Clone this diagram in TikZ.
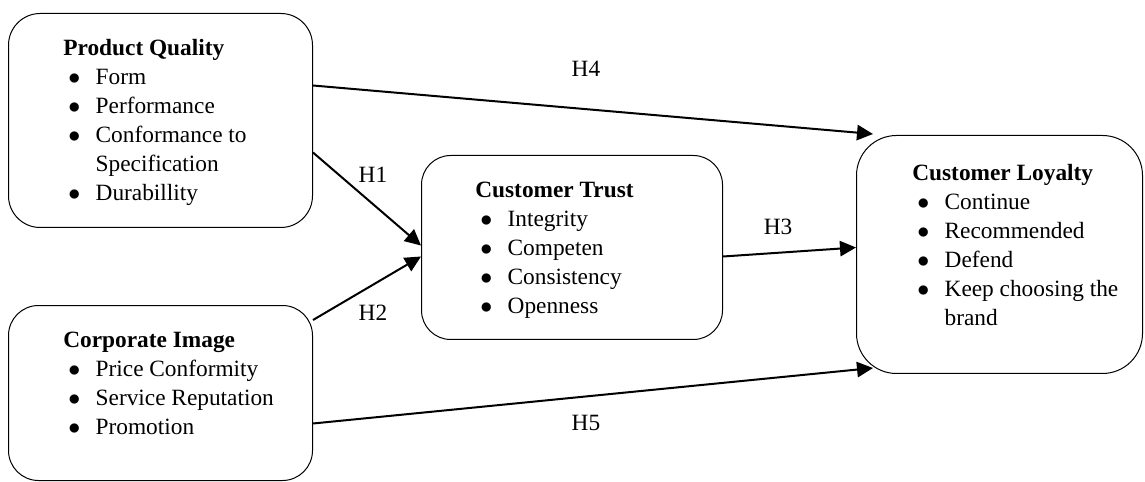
\documentclass[tikz,border=0pt]{standalone}
\usepackage{fontspec}
\setmainfont{Liberation Serif}
\usetikzlibrary{arrows.meta}
\newcommand{\bitem}[1]{\hspace*{3pt}\makebox[16.4pt][l]{$\bullet$}#1}
\newcommand{\bcont}[1]{\hspace*{19.4pt}#1}

\begin{document}
\begin{tikzpicture}[x=0.6pt, y=-0.6pt,
	box/.style={draw, line width=0.6pt, inner sep=0pt, anchor=north west},
	list/.style={anchor=north west, inner sep=0pt, align=left, font=\fontsize{14}{17.4}\selectfont},
	hyp/.style={inner sep=0pt, font=\fontsize{14}{16}\selectfont},
	link/.style={line width=1.2pt, -{Triangle[length=9.6pt,width=9.2pt]}}]
	\useasboundingbox (0,0) rectangle (1145,482);
	% boxes
	\node[box, rounded corners=19pt, minimum width=182.4pt, minimum height=128.4pt] (pq) at (8,13) {};
	\node[box, rounded corners=18pt, minimum width=182.4pt, minimum height=105pt] (ci) at (8,305) {};
	\node[box, rounded corners=17.5pt, minimum width=180.6pt, minimum height=110.4pt] (ct) at (421,155) {};
	\node[box, rounded corners=24pt, minimum width=171.6pt, minimum height=142.8pt] (cl) at (856,135) {};
	% texts
	\node[list] (pqlist) at (63,34.7) {\strut\textbf{Product Quality}\\ \bitem{Form}\\ \bitem{Performance}\\ \bitem{Conformance to}\\ \bcont{Specification}\\ \bitem{Durabillity}};
	\node[list] (cilist) at (63,326.7) {\strut\textbf{Corporate Image}\\ \bitem{Price Conformity}\\ \bitem{Service Reputation}\\ \bitem{Promotion}};
	\node[list] (ctlist) at (475,176.4) {\strut\textbf{Customer Trust}\\ \bitem{Integrity}\\ \bitem{Competen}\\ \bitem{Consistency}\\ \bitem{Openness}};
	\node[list] (cllist) at (912,159.7) {\strut\textbf{Customer Loyalty}\\ \bitem{Continue}\\ \bitem{Recommended}\\ \bitem{Defend}\\ \bitem{Keep choosing the}\\ \bcont{brand}};
	% hypotheses
	\node[hyp] (h1) at (373,175) {H1};
	\node[hyp] (h2) at (373,313) {H2};
	\node[hyp] (h3) at (778,227) {H3};
	\node[hyp] (h4) at (586,69) {H4};
	\node[hyp] (h5) at (586,423) {H5};
	\draw[link] ([shift={(0,-35)}]pq.east) -- ([shift={(17,-1)}]cl.north west);
	\draw[link] ([shift={(0,32)}]pq.east) -- ([shift={(0,-2)}]ct.west);
	\draw[link] ([shift={(0,15)}]ci.north east) -- ([shift={(0,9)}]ct.west);
	\draw[link] ([shift={(0,9)}]ct.east) -- ([shift={(0,-7)}]cl.west);
	\draw[link] ([shift={(0,30.5)}]ci.east) -- ([shift={(17,-6)}]cl.south west);
\end{tikzpicture}
\end{document}
